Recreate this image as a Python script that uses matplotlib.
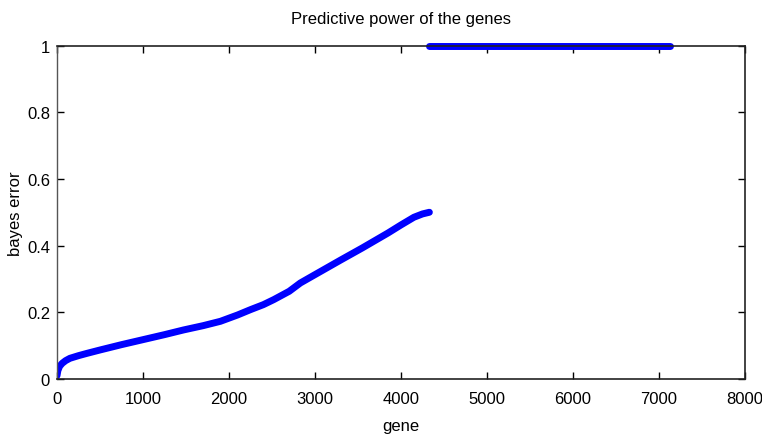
import matplotlib
matplotlib.use('Agg')
import matplotlib.pyplot as plt

# bayes error per gene (sorted)
gene_low = [0, 10, 30, 60, 100, 150, 250, 350, 500, 750, 1000, 1250, 1470, 1700, 1900,
            2100, 2250, 2400, 2520, 2700, 2830, 3000, 3300, 3550, 3850, 4000, 4150, 4250, 4330]
err_low = [0.01, 0.025, 0.038, 0.047, 0.055, 0.062, 0.07, 0.077, 0.087, 0.103, 0.118,
           0.133, 0.147, 0.16, 0.173, 0.192, 0.208, 0.223, 0.238, 0.263, 0.288, 0.313,
           0.357, 0.393, 0.438, 0.462, 0.485, 0.495, 0.5]
gene_high = [4330, 7130]
err_high = [1.0, 1.0]

x_ticks = [0, 1000, 2000, 3000, 4000, 5000, 6000, 7000, 8000]
y_ticks = [0, 0.2, 0.4, 0.6, 0.8, 1]

plt.rcParams['font.family'] = ['Liberation Sans Narrow', 'Liberation Sans', 'DejaVu Sans']

fig = plt.figure(figsize=(7.62, 4.39), dpi=100)
ax = fig.add_axes([0.0748, 0.1344, 0.9029, 0.7596])

ax.plot(gene_low, err_low, color='#0000ff', lw=5, solid_capstyle='round')
ax.plot(gene_high, err_high, color='#0000ff', lw=5, solid_capstyle='round', clip_on=False)

ax.set_xlim(0, 8000)
ax.set_ylim(0, 1)
ax.set_xticks(x_ticks)
ax.set_yticks(y_ticks)
ax.set_yticklabels(['0', '0.2', '0.4', '0.6', '0.8', '1'])
ax.tick_params(direction='in', top=True, right=True, length=5, labelsize=12, width=1)
ax.tick_params(axis='x', pad=9)
ax.tick_params(axis='y', pad=5)
for s in ax.spines.values():
    s.set_linewidth(1.2)
    s.set_color('#222222')
ax.spines['left'].set_color('#555555')
ax.spines['left'].set_linewidth(1.0)

ax.set_title('Predictive power of the genes', fontsize=12, pad=16)
ax.set_xlabel('gene', fontsize=12, labelpad=8)
ax.set_ylabel('bayes error', fontsize=12, labelpad=3)

fig.savefig('out.png', dpi=100)
